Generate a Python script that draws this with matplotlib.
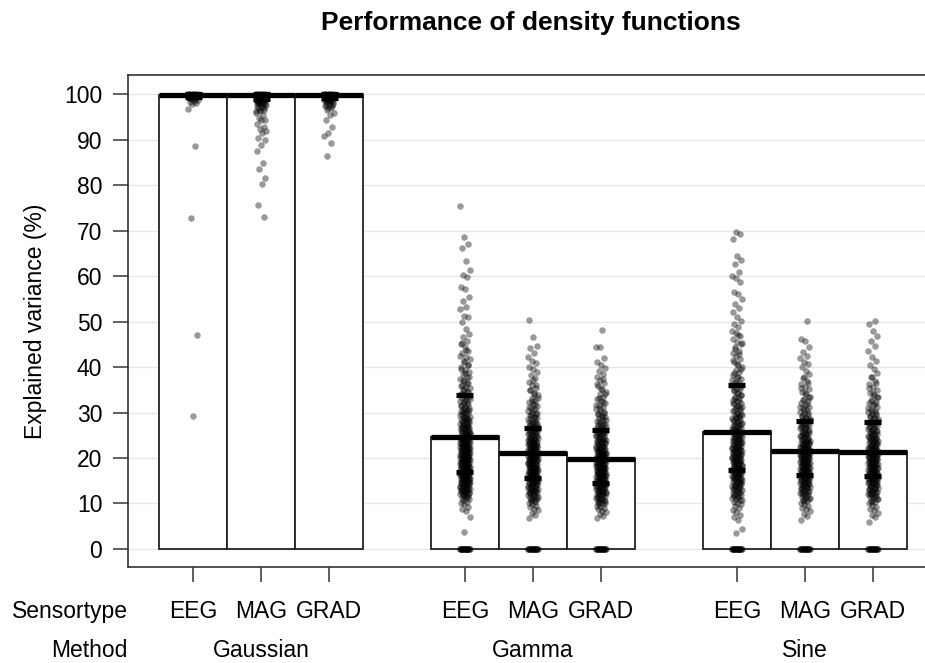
import matplotlib
matplotlib.use('Agg')
import matplotlib.pyplot as plt
import matplotlib.transforms as mtransforms
import numpy as np

plt.rcParams['font.family'] = ['Liberation Sans', 'DejaVu Sans']

# ---------------- data ----------------
title = 'Performance of density functions'
methods = ['Gaussian', 'Gamma', 'Sine']
sensors = ['EEG', 'MAG', 'GRAD']
yticks = [0, 10, 20, 30, 40, 50, 60, 70, 80, 90, 100]

# bar height (thick line) per method, in sensor order EEG, MAG, GRAD
gaussian_centre = [99.8, 99.7, 99.7]
gamma_centre = [24.6, 21.0, 19.7]
sine_centre = [25.7, 21.5, 21.3]

# short thick marks (lower / upper) per method
gaussian_lower = [99.4, 99.0, 99.2]
gaussian_upper = [100.0, 99.95, 99.95]
gamma_lower = [17.0, 15.6, 14.6]
gamma_upper = [33.8, 26.7, 26.1]
sine_lower = [17.3, 16.2, 16.0]
sine_upper = [36.0, 28.1, 27.9]

# individual observations (explained variance, %), read in two passes
gaussian_eeg = [100.0, 100.0, 100.0, 100.0, 100.0, 99.9, 99.9, 99.9, 99.9, 99.9, 99.9,
                99.9, 99.9, 99.8, 99.8, 99.8, 99.8, 99.8, 99.8, 99.8, 99.8, 99.7, 99.7,
                99.7, 99.7, 99.7, 99.7, 99.6, 99.6, 99.6, 99.6, 99.5, 99.5, 99.5, 99.4,
                99.4, 99.3, 99.3, 99.2, 99.1, 99.0, 98.9, 98.7, 98.5, 98.3, 98.0, 97.9,
                96.7, 88.6, 72.7, 47.0, 29.3]
gaussian_eeg_b = [99.9, 99.9, 99.8, 99.8, 99.7, 99.6, 99.5, 99.3, 99.1]
gaussian_mag = [100.0, 100.0, 100.0, 100.0, 100.0, 99.9, 99.9, 99.9, 99.9, 99.9, 99.9,
                99.8, 99.8, 99.8, 99.8, 99.8, 99.7, 99.7, 99.7, 99.7, 99.6, 99.6, 99.6,
                99.5, 99.5, 99.4, 99.4, 99.3, 99.2, 99.2, 99.1, 99.0, 98.9, 98.8, 98.7,
                98.6, 98.5, 98.4, 98.2, 98.0, 97.9, 97.8, 97.5, 97.2, 96.9, 96.5, 96.2,
                95.9, 95.5, 94.8, 94.4, 94.2, 93.5, 92.7, 92.4, 91.9, 91.5, 90.4, 90.0,
                88.8, 87.5, 84.9, 83.5, 81.6, 80.2, 75.6, 73.0]
gaussian_mag_b = [99.9, 99.9, 99.8, 99.8, 99.7, 99.7, 99.6, 99.5, 99.4, 99.3, 99.2,
                  99.0, 98.9, 98.7, 98.5, 98.3, 98.1, 97.9, 97.6, 97.3, 97.0, 96.6, 96.2]
gaussian_grad = [100.0, 100.0, 100.0, 100.0, 100.0, 99.9, 99.9, 99.9, 99.9, 99.9, 99.9,
                 99.8, 99.8, 99.8, 99.8, 99.8, 99.7, 99.7, 99.7, 99.7, 99.6, 99.6, 99.6,
                 99.5, 99.5, 99.4, 99.4, 99.3, 99.2, 99.1, 99.0, 98.9, 98.8, 98.7, 98.6,
                 98.4, 98.2, 97.9, 97.6, 97.3, 96.9, 96.5, 95.8, 95.4, 94.3, 92.8, 91.4,
                 90.7, 89.3, 86.4]
gaussian_grad_b = [99.9, 99.9, 99.8, 99.8, 99.7, 99.6, 99.5, 99.4, 99.3, 99.1, 98.9,
                   98.7, 98.5, 98.3, 98.0, 97.7, 97.4, 97.0]

gamma_eeg = [0, 0, 0, 0, 0, 0, 0, 0, 0, 0, 0, 0, 0, 0, 0, 0, 0, 0, 0, 0,
             3.7, 7.1, 8.3, 8.8, 9.2, 9.8, 10.1, 10.4, 10.7, 10.9, 11.1, 11.3, 11.6, 11.8,
             12.0, 12.1, 12.3, 12.4, 12.6, 12.7, 12.8, 13.0, 13.1, 13.2, 13.3, 13.5, 13.6,
             13.7, 13.9, 14.0, 14.1, 14.2, 14.4, 14.5, 14.6, 14.7, 14.9, 15.0, 15.1, 15.2,
             15.3, 15.4, 15.6, 15.7, 15.8, 15.9, 16.0, 16.1, 16.2, 16.3, 16.5, 16.6, 16.7,
             16.8, 16.9, 17.0, 17.1, 17.2, 17.4, 17.5, 17.6, 17.7, 17.8, 17.9, 18.0, 18.1,
             18.2, 18.4, 18.5, 18.6, 18.7, 18.8, 18.9, 19.0, 19.1, 19.3, 19.4, 19.5, 19.6,
             19.7, 19.8, 19.9, 20.0, 20.2, 20.3, 20.4, 20.5, 20.6, 20.7, 20.9, 21.0, 21.1,
             21.2, 21.3, 21.4, 21.6, 21.7, 21.8, 21.9, 22.0, 22.2, 22.3, 22.4, 22.5, 22.7,
             22.8, 22.9, 23.0, 23.2, 23.3, 23.4, 23.6, 23.7, 23.8, 24.0, 24.1, 24.2, 24.4,
             24.5, 24.7, 24.8, 24.9, 25.1, 25.2, 25.4, 25.5, 25.7, 25.8, 26.0, 26.1, 26.3,
             26.5, 26.6, 26.8, 27.0, 27.1, 27.3, 27.5, 27.7, 27.9, 28.1, 28.3, 28.5, 28.7,
             28.9, 29.1, 29.3, 29.6, 29.8, 30.0, 30.3, 30.5, 30.8, 31.0, 31.3, 31.6, 31.9,
             32.2, 32.5, 32.8, 33.1, 33.4, 33.8, 34.1, 34.5, 34.9, 35.3, 35.7, 36.1, 36.5,
             37.0, 37.4, 37.9, 38.4, 38.9, 39.4, 40.0, 40.5, 41.1, 41.7, 42.3, 43.0, 43.6,
             44.3, 45.1, 45.8, 46.6, 47.3, 48.4, 49.8, 50.9, 51.3, 52.8, 53.3, 54.6, 55.3,
             57.2, 57.7, 59.9, 60.3, 61.3, 63.4, 66.1, 67.0, 68.5, 75.4]
gamma_eeg_b = [11.5, 11.9, 12.3, 12.6, 12.9, 13.2, 13.4, 13.7, 13.9, 14.2, 14.4, 14.6,
               14.8, 15.0, 15.2, 15.5, 15.7, 15.9, 16.1, 16.3, 16.5, 16.7, 16.9, 17.1,
               17.3, 17.5, 17.7, 17.9, 18.1, 18.3, 18.5, 18.7, 18.9, 19.1, 19.3, 19.5,
               19.7, 19.9, 20.1, 20.3, 20.5, 20.7, 20.9, 21.1, 21.3, 21.5, 21.7, 21.9,
               22.1, 22.3, 22.5, 22.7, 22.9, 23.1, 23.3, 23.5, 23.7, 23.9, 24.1, 24.3,
               24.6, 24.9, 25.2, 25.5, 25.8, 26.1, 26.4, 26.7, 27.0, 27.3, 27.6, 27.9,
               28.2, 28.6, 29.0, 29.4, 29.8, 30.2, 30.6, 31.0, 31.5, 32.0, 32.5, 33.0,
               33.5, 34.0, 34.6, 35.2, 35.8, 36.4, 37.1, 37.8, 38.6, 39.5, 40.4, 41.4,
               42.5, 43.8, 45.2]
gamma_mag = [0, 0, 0, 0, 0, 0, 0, 0, 0, 0, 0, 0, 0, 0, 0, 0, 0, 0,
             6.8, 7.5, 8.0, 8.6, 8.9, 9.3, 9.5, 9.9, 10.1, 10.4, 10.6, 10.9, 11.0, 11.2,
             11.4, 11.6, 11.8, 12.0, 12.2, 12.3, 12.5, 12.6, 12.8, 13.0, 13.1, 13.2, 13.4,
             13.5, 13.7, 13.8, 14.0, 14.1, 14.3, 14.4, 14.5, 14.7, 14.8, 14.9, 15.0, 15.2,
             15.3, 15.4, 15.5, 15.7, 15.8, 15.9, 16.0, 16.2, 16.3, 16.4, 16.5, 16.6, 16.7,
             16.9, 17.0, 17.1, 17.2, 17.3, 17.4, 17.6, 17.7, 17.8, 17.9, 18.0, 18.1, 18.3,
             18.4, 18.5, 18.6, 18.7, 18.8, 18.9, 19.0, 19.2, 19.3, 19.4, 19.5, 19.6, 19.7,
             19.8, 20.0, 20.1, 20.2, 20.3, 20.4, 20.5, 20.7, 20.8, 20.9, 21.0, 21.1, 21.3,
             21.4, 21.5, 21.6, 21.8, 21.9, 22.0, 22.1, 22.3, 22.4, 22.6, 22.7, 22.8, 23.0,
             23.1, 23.3, 23.4, 23.6, 23.7, 23.9, 24.0, 24.2, 24.4, 24.5, 24.7, 24.9, 25.0,
             25.2, 25.4, 25.6, 25.8, 26.0, 26.2, 26.4, 26.6, 26.8, 27.0, 27.3, 27.5, 27.7,
             28.0, 28.2, 28.5, 28.8, 29.1, 29.4, 29.7, 30.0, 30.4, 30.7, 31.1, 31.5, 31.9,
             32.3, 32.8, 33.3, 33.8, 34.3, 34.9, 35.5, 36.1, 36.8, 37.5, 38.3, 39.0, 39.6,
             40.1, 40.9, 41.4, 42.2, 43.0, 44.1, 44.7, 46.6, 50.4]
gamma_mag_b = [10.5, 11.0, 11.5, 11.9, 12.3, 12.7, 13.0, 13.3, 13.6, 13.9, 14.2, 14.5,
               14.8, 15.1, 15.4, 15.7, 15.9, 16.2, 16.4, 16.7, 16.9, 17.2, 17.4, 17.6,
               17.9, 18.1, 18.3, 18.6, 18.8, 19.0, 19.3, 19.5, 19.7, 20.0, 20.2, 20.4,
               20.7, 20.9, 21.1, 21.4, 21.6, 21.8, 22.1, 22.3, 22.6, 22.8, 23.1, 23.3,
               23.6, 23.9, 24.2, 24.5, 24.8, 25.1, 25.4, 25.7, 26.0, 26.4, 26.8, 27.2,
               27.6, 28.0, 28.5, 29.0, 29.5, 30.0, 30.6, 31.2, 31.8, 32.5, 33.3, 34.1,
               35.0, 36.0, 37.2]
gamma_grad = [0, 0, 0, 0, 0, 0, 0, 0, 0, 0, 0, 0, 0, 0, 0, 0, 0, 0,
              6.8, 7.2, 7.6, 8.1, 8.4, 8.8, 9.0, 9.3, 9.5, 9.8, 10.0, 10.2, 10.4, 10.6,
              10.8, 11.0, 11.2, 11.3, 11.5, 11.7, 11.9, 12.0, 12.2, 12.3, 12.5, 12.6, 12.8,
              12.9, 13.1, 13.2, 13.3, 13.5, 13.6, 13.8, 13.9, 14.0, 14.1, 14.3, 14.4, 14.5,
              14.6, 14.8, 14.9, 15.0, 15.1, 15.3, 15.4, 15.5, 15.6, 15.8, 15.9, 16.0, 16.1,
              16.2, 16.3, 16.5, 16.6, 16.7, 16.8, 16.9, 17.0, 17.2, 17.3, 17.4, 17.5, 17.6,
              17.7, 17.9, 18.0, 18.1, 18.2, 18.3, 18.4, 18.6, 18.7, 18.8, 18.9, 19.0, 19.1,
              19.3, 19.4, 19.5, 19.6, 19.7, 19.8, 20.0, 20.1, 20.2, 20.3, 20.5, 20.6, 20.7,
              20.8, 21.0, 21.1, 21.2, 21.4, 21.5, 21.6, 21.8, 21.9, 22.1, 22.2, 22.4, 22.5,
              22.7, 22.8, 23.0, 23.2, 23.3, 23.5, 23.7, 23.9, 24.0, 24.2, 24.4, 24.6, 24.8,
              25.0, 25.2, 25.4, 25.6, 25.8, 26.1, 26.3, 26.5, 26.8, 27.0, 27.3, 27.5, 27.8,
              28.1, 28.4, 28.7, 29.0, 29.3, 29.7, 30.0, 30.4, 30.8, 31.2, 31.6, 32.0, 32.5,
              33.0, 33.5, 34.0, 34.6, 35.2, 35.8, 36.4, 37.1, 37.8, 38.5, 39.1, 39.7, 40.4,
              41.1, 42.0, 44.4, 44.5, 48.2]
gamma_grad_b = [10.0, 10.5, 11.0, 11.4, 11.8, 12.1, 12.4, 12.7, 13.0, 13.3, 13.6, 13.9,
                14.2, 14.5, 14.7, 15.0, 15.2, 15.5, 15.7, 16.0, 16.2, 16.5, 16.7, 16.9,
                17.2, 17.4, 17.6, 17.9, 18.1, 18.3, 18.6, 18.8, 19.0, 19.3, 19.5, 19.7,
                20.0, 20.2, 20.5, 20.7, 21.0, 21.2, 21.5, 21.7, 22.0, 22.3, 22.6, 22.9,
                23.2, 23.5, 23.8, 24.1, 24.4, 24.8, 25.2, 25.6, 26.0, 26.4, 26.9, 27.4,
                27.9, 28.4, 29.0, 29.6, 30.2, 30.9, 31.6, 32.4, 33.2, 34.1, 35.1, 36.2,
                37.4]

sine_eeg = [0, 0, 0, 0, 0, 0, 0, 0, 0, 0, 0, 0, 0, 0, 0, 0, 0, 0, 0, 0,
            3.6, 4.5, 6.4, 7.1, 7.5, 8.2, 8.6, 9.0, 9.4, 9.8, 10.1, 10.4, 10.7, 11.0, 11.2,
            11.5, 11.7, 11.9, 12.1, 12.3, 12.5, 12.7, 12.9, 13.1, 13.3, 13.4, 13.6, 13.8,
            14.0, 14.1, 14.3, 14.5, 14.7, 14.8, 15.0, 15.2, 15.3, 15.5, 15.6, 15.8, 15.9,
            16.1, 16.2, 16.4, 16.5, 16.7, 16.8, 17.0, 17.1, 17.3, 17.4, 17.6, 17.7, 17.9,
            18.0, 18.2, 18.3, 18.5, 18.6, 18.8, 18.9, 19.1, 19.2, 19.4, 19.5, 19.7, 19.8,
            20.0, 20.1, 20.3, 20.4, 20.6, 20.7, 20.9, 21.0, 21.2, 21.3, 21.5, 21.6, 21.8,
            21.9, 22.1, 22.2, 22.4, 22.5, 22.7, 22.9, 23.0, 23.2, 23.4, 23.5, 23.7, 23.9,
            24.0, 24.2, 24.4, 24.6, 24.8, 25.0, 25.2, 25.4, 25.6, 25.8, 26.0, 26.2, 26.4,
            26.6, 26.8, 27.0, 27.3, 27.5, 27.7, 27.9, 28.2, 28.4, 28.7, 28.9, 29.2, 29.4,
            29.7, 30.0, 30.3, 30.6, 30.9, 31.2, 31.5, 31.8, 32.1, 32.5, 32.8, 33.2, 33.5,
            33.9, 34.3, 34.7, 35.1, 35.5, 35.9, 36.4, 36.8, 37.3, 37.8, 38.3, 38.8, 39.4,
            40.0, 40.5, 41.1, 41.8, 42.4, 43.0, 43.6, 44.4, 45.0, 45.5, 46.2, 46.9, 47.5,
            48.0, 48.8, 49.5, 50.2, 51.0, 52.0, 53.0, 53.9, 55.0, 56.1, 56.6, 58.6, 59.6,
            60.1, 60.8, 62.6, 63.5, 64.5, 68.1, 69.2, 69.6]
sine_eeg_b = [10.8, 11.4, 11.9, 12.4, 12.8, 13.2, 13.6, 14.0, 14.4, 14.7, 15.1, 15.4,
              15.7, 16.0, 16.3, 16.6, 16.9, 17.2, 17.5, 17.8, 18.1, 18.4, 18.7, 19.0,
              19.3, 19.6, 19.9, 20.2, 20.5, 20.8, 21.1, 21.4, 21.7, 22.0, 22.3, 22.6,
              22.9, 23.2, 23.5, 23.8, 24.1, 24.4, 24.7, 25.0, 25.3, 25.6, 25.9, 26.3,
              26.7, 27.1, 27.5, 27.9, 28.3, 28.7, 29.1, 29.5, 30.0, 30.5, 31.0, 31.5,
              32.0, 32.6, 33.2, 33.8, 34.4, 35.0, 35.7, 36.4, 37.1, 37.9, 38.7, 39.6,
              40.6, 41.6, 42.8, 44.0, 45.3, 47.0]
sine_mag = [0, 0, 0, 0, 0, 0, 0, 0, 0, 0, 0, 0, 0, 0, 0, 0, 0, 0,
            6.4, 7.3, 7.8, 8.3, 8.7, 9.1, 9.5, 9.8, 10.2, 10.5, 10.8, 11.0, 11.3, 11.5,
            11.8, 12.0, 12.2, 12.4, 12.6, 12.8, 13.0, 13.2, 13.4, 13.5, 13.7, 13.9, 14.1,
            14.2, 14.4, 14.6, 14.7, 14.9, 15.0, 15.2, 15.3, 15.5, 15.6, 15.8, 15.9, 16.1,
            16.2, 16.4, 16.5, 16.7, 16.8, 16.9, 17.1, 17.2, 17.4, 17.5, 17.6, 17.8, 17.9,
            18.1, 18.2, 18.3, 18.5, 18.6, 18.8, 18.9, 19.0, 19.2, 19.3, 19.5, 19.6, 19.7,
            19.9, 20.0, 20.2, 20.3, 20.4, 20.6, 20.7, 20.9, 21.0, 21.1, 21.3, 21.4, 21.6,
            21.7, 21.9, 22.0, 22.2, 22.3, 22.5, 22.6, 22.8, 23.0, 23.1, 23.3, 23.5, 23.6,
            23.8, 24.0, 24.2, 24.4, 24.6, 24.8, 25.0, 25.2, 25.4, 25.6, 25.8, 26.0, 26.3,
            26.5, 26.7, 27.0, 27.2, 27.5, 27.7, 28.0, 28.3, 28.6, 28.9, 29.2, 29.5, 29.8,
            30.2, 30.5, 30.9, 31.3, 31.7, 32.1, 32.5, 33.0, 33.5, 34.0, 34.5, 35.1, 35.7,
            36.3, 37.0, 37.6, 38.5, 39.2, 40.0, 40.7, 41.1, 42.0, 42.5, 43.4, 44.4, 45.8,
            46.2, 50.2]
sine_mag_b = [10.6, 11.2, 11.7, 12.1, 12.5, 12.9, 13.3, 13.6, 14.0, 14.3, 14.6, 14.9,
              15.2, 15.5, 15.8, 16.1, 16.3, 16.6, 16.9, 17.1, 17.4, 17.6, 17.9, 18.1,
              18.4, 18.6, 18.9, 19.1, 19.4, 19.6, 19.9, 20.1, 20.4, 20.6, 20.9, 21.1,
              21.4, 21.6, 21.9, 22.1, 22.4, 22.7, 23.0, 23.3, 23.6, 23.9, 24.2, 24.5,
              24.9, 25.3, 25.7, 26.1, 26.5, 26.9, 27.3, 27.8, 28.3, 28.8, 29.3, 29.9,
              30.5, 31.2, 31.9, 32.7, 33.5, 34.4, 35.4, 36.5, 37.8]
sine_grad = [0, 0, 0, 0, 0, 0, 0, 0, 0, 0, 0, 0, 0, 0, 0, 0, 0, 0,
             6.0, 7.0, 7.4, 8.0, 8.5, 8.9, 9.3, 9.7, 10.0, 10.3, 10.6, 10.9, 11.1, 11.4,
             11.6, 11.8, 12.0, 12.2, 12.4, 12.6, 12.8, 13.0, 13.2, 13.4, 13.5, 13.7, 13.9,
             14.0, 14.2, 14.4, 14.5, 14.7, 14.8, 15.0, 15.1, 15.3, 15.4, 15.6, 15.7, 15.9,
             16.0, 16.2, 16.3, 16.5, 16.6, 16.7, 16.9, 17.0, 17.2, 17.3, 17.4, 17.6, 17.7,
             17.9, 18.0, 18.1, 18.3, 18.4, 18.6, 18.7, 18.8, 19.0, 19.1, 19.3, 19.4, 19.5,
             19.7, 19.8, 20.0, 20.1, 20.2, 20.4, 20.5, 20.7, 20.8, 21.0, 21.1, 21.3, 21.4,
             21.6, 21.7, 21.9, 22.0, 22.2, 22.3, 22.5, 22.7, 22.8, 23.0, 23.2, 23.3, 23.5,
             23.7, 23.9, 24.1, 24.3, 24.5, 24.7, 24.9, 25.1, 25.3, 25.5, 25.7, 25.9, 26.2,
             26.4, 26.6, 26.9, 27.1, 27.4, 27.6, 27.9, 28.2, 28.5, 28.8, 29.1, 29.4, 29.7,
             30.1, 30.4, 30.8, 31.2, 31.6, 32.0, 32.4, 32.9, 33.4, 33.9, 34.4, 35.0, 35.6,
             36.3, 37.0, 37.8, 38.6, 39.6, 40.4, 41.3, 42.2, 43.5, 44.7, 45.8, 46.8, 48.0,
             49.5, 50.2]
sine_grad_b = [10.4, 11.0, 11.5, 12.0, 12.4, 12.8, 13.1, 13.5, 13.8, 14.1, 14.4, 14.7,
               15.0, 15.3, 15.6, 15.9, 16.1, 16.4, 16.7, 16.9, 17.2, 17.4, 17.7, 17.9,
               18.2, 18.4, 18.7, 18.9, 19.2, 19.4, 19.7, 19.9, 20.2, 20.4, 20.7, 20.9,
               21.2, 21.4, 21.7, 22.0, 22.3, 22.6, 22.9, 23.2, 23.5, 23.8, 24.1, 24.4,
               24.8, 25.2, 25.6, 26.0, 26.4, 26.8, 27.2, 27.7, 28.2, 28.7, 29.2, 29.8,
               30.4, 31.1, 31.8, 32.6, 33.4, 34.3, 35.3, 36.4, 37.7]

centres = [gaussian_centre, gamma_centre, sine_centre]
lowers = [gaussian_lower, gamma_lower, sine_lower]
uppers = [gaussian_upper, gamma_upper, sine_upper]
points = [[gaussian_eeg + gaussian_eeg_b, gaussian_mag + gaussian_mag_b,
           gaussian_grad + gaussian_grad_b],
          [gamma_eeg + gamma_eeg_b, gamma_mag + gamma_mag_b, gamma_grad + gamma_grad_b],
          [sine_eeg + sine_eeg_b, sine_mag + sine_mag_b, sine_grad + sine_grad_b]]

# ---------------- figure ----------------
W, H = 925, 663
fig = plt.figure(figsize=(W / 100, H / 100), dpi=100)
ax = fig.add_axes([128 / W, 1 - 567 / H, 1 - 128 / W, (567 - 75) / H])
ax.set_xlim(-0.956, 10.765)
ax.set_ylim(-3.96, 104.2)

for yv in yticks:
    ax.axhline(yv, color='#e6e6e6', lw=1.0, zorder=0)

group_gap = len(sensors) + 1
positions, labels = [], []
for mi, m in enumerate(methods):
    for si, s in enumerate(sensors):
        x = mi * group_gap + si
        positions.append(x)
        labels.append(s)
        vals = np.asarray(points[mi][si], dtype=float)
        n = len(vals)
        jit = ((np.arange(n) * 0.6180339887) % 1.0 - 0.5) * 0.15
        ax.bar(x, centres[mi][si], width=1.0, color='white', edgecolor='#222222',
               linewidth=1.3, zorder=2)
        ax.scatter(x + jit, vals, s=22, c='black', alpha=0.4, linewidths=0, zorder=3)
        ax.hlines(centres[mi][si], x - 0.5, x + 0.5, color='black', lw=3.8, zorder=4)
        ax.hlines([lowers[mi][si], uppers[mi][si]], x - 0.125, x + 0.125,
                  color='black', lw=3.8, zorder=4)

ax.spines['right'].set_visible(False)
for side in ['left', 'top', 'bottom']:
    ax.spines[side].set_color('#333333')
    ax.spines[side].set_linewidth(1.2)

ax.set_yticks(yticks)
ax.set_xticks(positions, labels=labels)
ax.tick_params(axis='both', direction='out', length=10.5, width=1.1, color='#333333',
               labelsize=16.5, labelcolor='black')
ax.tick_params(axis='x', pad=13)
ax.tick_params(axis='y', pad=8)

ax.set_ylabel('Explained variance (%)', fontsize=16.5, va='center')
ax.yaxis.set_label_coords((36 - 128) / (W - 128), 0.5)

fig.text(531 / W, 1 - 30 / H, title, ha='center', va='baseline', fontsize=19,
         fontweight='bold')

fig.text(127.5 / W, 1 - 618 / H, 'Sensortype', ha='right', va='baseline', fontsize=16.5)
fig.text(127.5 / W, 1 - 657 / H, 'Method', ha='right', va='baseline', fontsize=16.5)
trans = mtransforms.blended_transform_factory(ax.transData, fig.transFigure)
for mi, m in enumerate(methods):
    ax.text(mi * group_gap + (len(sensors) - 1) / 2, 1 - 657 / H, m, transform=trans,
            ha='center', va='baseline', fontsize=16.5, clip_on=False)

fig.savefig('out.png', dpi=100)
